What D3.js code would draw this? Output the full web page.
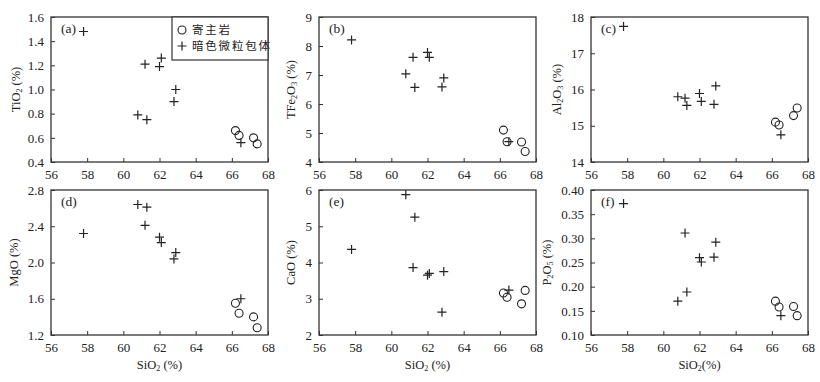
<!DOCTYPE html>
<html>
<head>
<meta charset="utf-8">
<script src="https://cdn.jsdelivr.net/npm/d3@7"></script>
<style>
  body { margin: 0; background: #fff; }
  text { font-family: "Liberation Serif", "DejaVu Serif", serif; fill: #222; }
</style>
</head>
<body>
<script>
// host rock (circles) and MME (crosses), one entry per sample
const hostSiO2 = [66.2, 66.4, 67.2, 67.4];
const hostTiO2 = [0.66, 0.62, 0.60, 0.55];
const hostFe = [5.10, 4.70, 4.69, 4.36];
const hostAl = [15.10, 15.02, 15.28, 15.49];
const hostMg = [1.55, 1.44, 1.40, 1.28];
const hostCa = [3.16, 3.04, 2.86, 3.23];
const hostP = [0.170, 0.158, 0.159, 0.140];

const mmeSiO2 = [57.8, 60.8, 61.2, 61.3, 62.0, 62.1, 62.8, 62.9, 66.5];
const mmeTiO2 = [1.48, 0.79, 1.21, 0.75, 1.19, 1.26, 0.90, 1.00, 0.56];
const mmeFe = [8.21, 7.04, 7.61, 6.57, 7.78, 7.61, 6.59, 6.90, 4.70];
const mmeAl = [17.74, 15.80, 15.76, 15.56, 15.89, 15.67, 15.59, 16.10, 14.75];
const mmeMg = [2.32, 2.64, 2.41, 2.61, 2.28, 2.22, 2.04, 2.11, 1.60];
const mmeCa = [4.36, 5.87, 3.86, 5.25, 3.65, 3.70, 2.63, 3.75, 3.24];
const mmeP = [0.372, 0.170, 0.311, 0.189, 0.260, 0.251, 0.261, 0.292, 0.140];

const xTicks = [56, 58, 60, 62, 64, 66, 68];
const legendLabels = ["寄主岩", "暗色微粒包体"];

const panels = [
  { tag: "(a)", ox: ["TiO", "2", " (%)"], domain: [0.4, 1.6], ticks: [0.4, 0.6, 0.8, 1.0, 1.2, 1.4, 1.6], fmt: ".1f", host: hostTiO2, mme: mmeTiO2, col: 0, row: 0, lab: 31 },
  { tag: "(b)", ox: ["TFe", "2", "O", "3", " (%)"], domain: [4, 9], ticks: [4, 5, 6, 7, 8, 9], fmt: "d", host: hostFe, mme: mmeFe, col: 1, row: 0, lab: 24 },
  { tag: "(c)", ox: ["Al", "2", "O", "3", " (%)"], domain: [14, 18], ticks: [14, 15, 16, 17, 18], fmt: "d", host: hostAl, mme: mmeAl, col: 2, row: 0, lab: 30 },
  { tag: "(d)", ox: ["MgO (%)"], domain: [1.2, 2.8], ticks: [1.2, 1.6, 2.0, 2.4, 2.8], fmt: ".1f", host: hostMg, mme: mmeMg, col: 0, row: 1, lab: 33 },
  { tag: "(e)", ox: ["CaO (%)"], domain: [2, 6], ticks: [2, 3, 4, 5, 6], fmt: "d", host: hostCa, mme: mmeCa, col: 1, row: 1, lab: 24 },
  { tag: "(f)", ox: ["P", "2", "O", "5", " (%)"], domain: [0.10, 0.40], ticks: [0.10, 0.15, 0.20, 0.25, 0.30, 0.35, 0.40], fmt: ".2f", host: hostP, mme: mmeP, col: 2, row: 1, lab: 40 }
];

const colLeft = [51, 319, 591], rowTop = [17, 190];
const pw = 217, ph = 145;

const svg = d3.select("body").append("svg")
  .attr("width", 820).attr("height", 382);

// writes chemical formula parts; odd-index parts are subscripts
function formula(sel, parts) {
  parts.forEach((p, i) => {
    const sub = i % 2 === 1;
    sel.append("tspan")
      .attr("font-size", sub ? 8 : 12.5)
      .attr("dy", sub ? 2 : (i > 0 ? -2 : 0))
      .text(p);
  });
}

panels.forEach(p => {
  const g = svg.append("g")
    .attr("transform", `translate(${colLeft[p.col]},${rowTop[p.row]})`);

  const x = d3.scaleLinear().domain([56, 68]).range([0, pw]);
  const y = d3.scaleLinear().domain(p.domain).range([ph, 0]);

  const xa = g.append("g").attr("transform", `translate(0,${ph})`)
    .call(d3.axisBottom(x).tickValues(xTicks).tickSizeInner(-4).tickSizeOuter(0).tickPadding(8));
  const ya = g.append("g")
    .call(d3.axisLeft(y).tickValues(p.ticks).tickFormat(d3.format(p.fmt)).tickSizeInner(-4).tickSizeOuter(0).tickPadding(7));
  [xa, ya].forEach(a => {
    a.select(".domain").remove();
    a.selectAll("line").attr("stroke", "#333");
    a.selectAll("text").attr("font-size", 13).attr("fill", "#2a2a2a")
      .style("font-family", "'Liberation Serif', serif");
  });

  g.append("rect")
    .attr("width", pw).attr("height", ph)
    .attr("fill", "none").attr("stroke", "#333").attr("stroke-width", 1.3);

  // y label
  const yl = g.append("text")
    .attr("transform", `translate(${-p.lab},${ph / 2}) rotate(-90)`)
    .attr("text-anchor", "middle").attr("dy", "0.35em");
  formula(yl, p.ox);

  if (p.row === 1) {
    const xl = g.append("text")
      .attr("x", pw / 2).attr("y", ph + 34)
      .attr("text-anchor", "middle");
    formula(xl, p.col === 2 ? ["SiO", "2", "(%)"] : ["SiO", "2", " (%)"]);
  }

  g.append("text").attr("x", 10).attr("y", 16)
    .attr("font-size", 13.5).text(p.tag);

  // host rock: open circles
  g.selectAll(".host").data(d3.zip(hostSiO2, p.host)).join("circle")
    .attr("cx", d => x(d[0])).attr("cy", d => y(d[1])).attr("r", 4)
    .attr("fill", "none").attr("stroke", "#222").attr("stroke-width", 1.1);

  // MME: crosses
  g.selectAll(".mme").data(d3.zip(mmeSiO2, p.mme)).join("path")
    .attr("transform", d => `translate(${x(d[0])},${y(d[1])})`)
    .attr("d", "M-4.5,0H4.5M0,-4.5V4.5")
    .attr("stroke", "#222").attr("stroke-width", 1.2);
});

// legend in panel (a)
const lg = svg.append("g").attr("transform", `translate(${colLeft[0]},${rowTop[0]})`);
lg.append("rect").attr("x", 121).attr("y", 0).attr("width", pw - 121).attr("height", 43)
  .attr("fill", "#fff").attr("stroke", "#333").attr("stroke-width", 1.2);
lg.append("circle").attr("cx", 131).attr("cy", 13).attr("r", 4)
  .attr("fill", "none").attr("stroke", "#222").attr("stroke-width", 1.1);
lg.append("path").attr("transform", "translate(131,29)")
  .attr("d", "M-4.5,0H4.5M0,-4.5V4.5").attr("stroke", "#222").attr("stroke-width", 1.2);
legendLabels.forEach((t, i) => {
  lg.append("text").attr("x", 141).attr("y", 13 + i * 16).attr("dy", "0.35em")
    .attr("font-size", 11.5).style("letter-spacing", "1.8px")
    .style("font-family", "'Noto Sans CJK SC', sans-serif").text(t);
});
</script>
</body>
</html>
